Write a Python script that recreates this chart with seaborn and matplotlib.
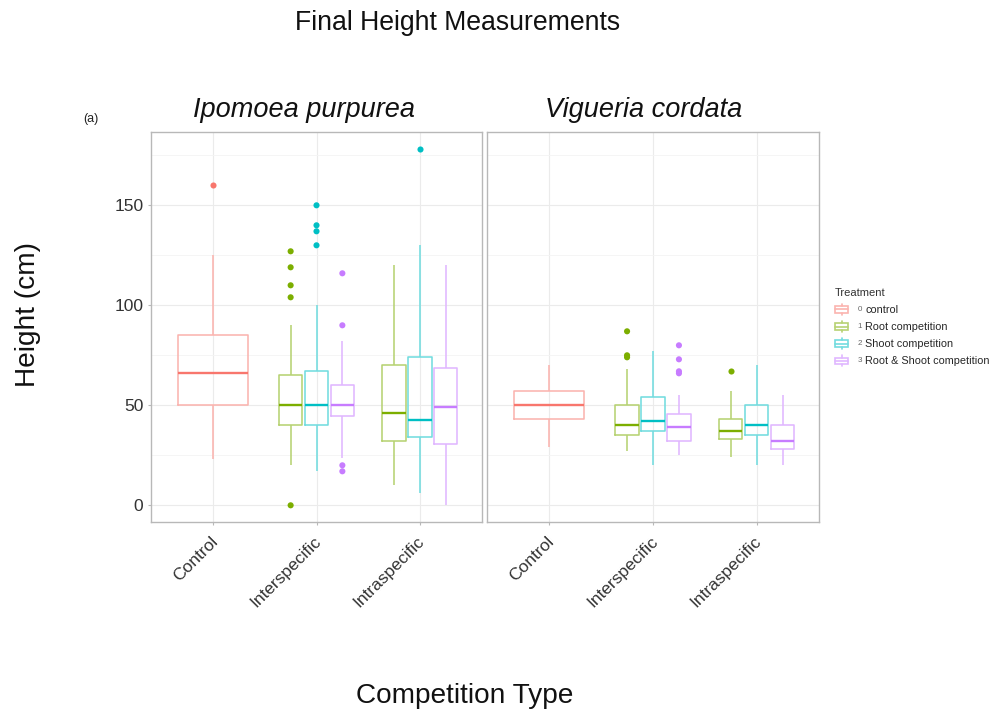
import matplotlib
matplotlib.use("Agg")
import numpy as np
import pandas as pd
import matplotlib.pyplot as plt
import seaborn as sns
from matplotlib.colors import to_rgb, to_hex
from matplotlib.patches import Rectangle
from matplotlib.lines import Line2D
from matplotlib.legend_handler import HandlerBase
from matplotlib.transforms import ScaledTranslation

# ---------------------------------------------------------------- data
species = ["Ipomoea purpurea", "Vigueria cordata"]
competition = ["Control", "Interspecific", "Intraspecific"]
treatments = ["control", "Root competition", "Shoot competition",
              "Root & Shoot competition"]
treatment_codes = ["0", "1", "2", "3"]
treatment_colors = ["#F8766D", "#7CAE00", "#00BFC4", "#C77CFF"]

# one entry per box: species / competition type / treatment
box_species = ["Ipomoea purpurea"] * 7 + ["Vigueria cordata"] * 7
box_competition = ["Control", "Interspecific", "Interspecific", "Interspecific",
                   "Intraspecific", "Intraspecific", "Intraspecific"] * 2
box_treatment = ["control", "Root competition", "Shoot competition",
                 "Root & Shoot competition", "Root competition",
                 "Shoot competition", "Root & Shoot competition"] * 2

# five-number summaries of final height (cm)
whisker_low = [23, 20, 17, 23.5, 10, 6, 0,
               29, 27, 20, 25, 24, 20, 20]
quartile_1 = [50, 40, 40, 44.5, 32, 34, 30.5,
              43, 35, 37, 32, 33, 35, 28]
median_height = [66, 50, 50, 50, 46, 42.5, 49,
                 50, 40, 42, 39, 37, 40, 32]
quartile_3 = [85, 65, 67, 60, 70, 74, 68.5,
              57, 50, 54, 45.5, 43, 50, 40]
whisker_high = [125, 90, 100, 82, 120, 130, 120,
                70, 68, 77, 55, 57, 70, 55]
# points beyond the whiskers
outlier_heights = [[160], [127, 119, 110, 104, 0], [150, 140, 137, 130],
                   [116, 90, 20, 17], [], [178], [],
                   [], [87, 75, 74], [], [80, 73, 67, 66], [67], [], []]

# ---------------------------------------------------------------- tables
summary = pd.DataFrame(
    [(sp, comp, trt, v)
     for sp, comp, trt, lo, a, m, b, hi in zip(
         box_species, box_competition, box_treatment,
         whisker_low, quartile_1, median_height, quartile_3, whisker_high)
     for v in (lo, a, m, b, hi)],
    columns=["species", "competition", "treatment", "height"])

outliers = pd.DataFrame(
    [(sp, comp, trt, v)
     for sp, comp, trt, vals in zip(box_species, box_competition,
                                    box_treatment, outlier_heights)
     for v in vals],
    columns=["species", "competition", "treatment", "height"])

palette = dict(zip(treatments, treatment_colors))


def lighten(color, amount=0.45):
    r, g, b = to_rgb(color)
    return to_hex((r + (1 - r) * amount, g + (1 - g) * amount,
                   b + (1 - b) * amount))


# ---------------------------------------------------------------- style
sns.set_theme(style="white")
plt.rcParams["font.family"] = ["Liberation Sans", "DejaVu Sans"]

W, H = 992, 712
fig = plt.figure(figsize=(W / 100, H / 100), dpi=100)
ax_l = fig.add_axes([151 / W, 1 - 522 / H, 331 / W, 390 / H])
ax_r = fig.add_axes([487 / W, 1 - 522 / H, 332 / W, 390 / H])

BOX_WIDTH = 0.75
STRIP_WIDTH = 0.8  # seaborn's dodge span for strip points

for ax, sp in zip([ax_l, ax_r], species):
    sub = summary[summary.species == sp]
    ctrl = sub[sub.treatment == treatments[0]]
    rest = sub[sub.treatment != treatments[0]]

    sns.boxplot(data=ctrl, x="competition", y="height", hue="treatment",
                order=competition, hue_order=treatments[:1], palette=palette,
                fill=False, width=BOX_WIDTH * 0.9, gap=0, dodge=False,
                whis=(0, 100), linewidth=1.15, legend=False, ax=ax)
    sns.boxplot(data=rest, x="competition", y="height", hue="treatment",
                order=competition, hue_order=treatments[1:], palette=palette,
                fill=False, width=BOX_WIDTH, gap=0.1, dodge=True,
                whis=(0, 100), linewidth=1.15, legend=False, ax=ax)

    # pale boxes and whiskers, solid medians, no caps
    for cont in ax.containers:
        for art in list(cont.boxes) + list(cont.whiskers):
            if hasattr(art, "get_edgecolor"):
                art.set_edgecolor(lighten(art.get_edgecolor()))
            else:
                art.set_color(lighten(art.get_color()))
        for cap in cont.caps:
            cap.set_visible(False)
        for med in cont.medians:
            med.set_linewidth(1.7)

    # outlying points
    osub = outliers[outliers.species == sp]
    groups = [(osub[osub.treatment == treatments[0]], treatments[:1], False),
              (osub[osub.treatment != treatments[0]], treatments[1:], True)]
    for odata, horder, dodge in groups:
        if odata.empty:
            continue
        n_before = len(ax.collections)
        sns.stripplot(data=odata, x="competition", y="height",
                      hue="treatment", order=competition, hue_order=horder,
                      palette=palette, dodge=dodge, jitter=False, size=4.4,
                      linewidth=0, legend=False, zorder=5, ax=ax)
        if dodge:
            for coll in ax.collections[n_before:]:
                off = coll.get_offsets()
                if len(off):
                    centre = np.round(off[:, 0])
                    off[:, 0] = centre + (off[:, 0] - centre) * BOX_WIDTH / STRIP_WIDTH
                    coll.set_offsets(off)

    ax.set_xlim(-0.6, 2.6)
    ax.set_ylim(-8.35, 186.65)
    ax.set_yticks([0, 50, 100, 150])
    ax.set_yticks([25, 75, 125, 175], minor=True)
    ax.grid(True, which="major", color="#EBEBEB", linewidth=0.8)
    ax.grid(True, which="minor", axis="y", color="#F4F4F4", linewidth=0.6)
    ax.set_axisbelow(True)
    ax.set_xlabel("")
    ax.set_ylabel("")
    for spine in ax.spines.values():
        spine.set_visible(True)
        spine.set_color("#B8B8B8")
        spine.set_linewidth(1.0)
    ax.tick_params(axis="both", which="major", length=2.5, width=0.8,
                   color="#B8B8B8", labelsize=12.5, labelcolor="#333333",
                   pad=3, bottom=True, left=True)
    ax.tick_params(axis="x", pad=6)
    ax.tick_params(which="minor", length=0)
    for lab in ax.get_xticklabels():
        lab.set_rotation(45)
        lab.set_ha("right")
        lab.set_va("top")
        lab.set_rotation_mode("anchor")
        lab.set_transform(lab.get_transform() +
                          ScaledTranslation(-0.03, 0, fig.dpi_scale_trans))

ax_r.tick_params(axis="y", left=False, labelleft=False)

# ---------------------------------------------------------------- text
fig.text(458 / W, 1 - 30 / H, "Final Height Measurements", ha="center",
         va="baseline", fontsize=19.2, color="#111111")
fig.text(304 / W, 1 - 117 / H, "Ipomoea purpurea", ha="center",
         va="baseline", fontsize=19.5, style="italic", color="#111111")
fig.text(644 / W, 1 - 117 / H, "Vigueria cordata", ha="center",
         va="baseline", fontsize=19.5, style="italic", color="#111111")
fig.text(91 / W, 1 - 119 / H, "(a)", ha="center", va="center",
         fontsize=9, color="#222222")
fig.text(28 / W, 1 - 315 / H, "Height (cm)", rotation=90, ha="center",
         va="center", fontsize=20.2, color="#111111")
fig.text(465 / W, 1 - 703 / H, "Competition Type", ha="center",
         va="baseline", fontsize=20.2, color="#111111")


# ---------------------------------------------------------------- legend
class BoxKey:
    def __init__(self, color):
        self.color = color


class BoxKeyHandler(HandlerBase):
    def create_artists(self, legend, handle, xd, yd, w, h, fontsize, trans):
        x0, y0 = -xd, -yd
        pale = lighten(handle.color)
        rect = Rectangle((x0, y0 + 0.2 * h), w, 0.6 * h, facecolor="white",
                         edgecolor=pale, linewidth=1.2, transform=trans)
        mid = Line2D([x0, x0 + w], [y0 + 0.5 * h] * 2, color=pale,
                     linewidth=1.2, transform=trans)
        lo = Line2D([x0 + w / 2] * 2, [y0, y0 + 0.2 * h], color=pale,
                    linewidth=1.2, transform=trans)
        hi = Line2D([x0 + w / 2] * 2, [y0 + 0.8 * h, y0 + h], color=pale,
                    linewidth=1.2, transform=trans)
        return [rect, mid, lo, hi]


handles = [BoxKey(c) for c in treatment_colors]
leg = fig.legend(handles, treatments, loc="upper left",
                 bbox_to_anchor=(835 / W, 1 - 288 / H), frameon=False,
                 title="Treatment", fontsize=7.8, title_fontsize=8,
                 handler_map={BoxKey: BoxKeyHandler()}, handlelength=1.2,
                 handleheight=1.15, handletextpad=1.6, labelspacing=0.56,
                 alignment="left", borderaxespad=0, borderpad=0)
leg.get_title().set_color("#333333")

fig.canvas.draw()
renderer = fig.canvas.get_renderer()
for txt, code in zip(leg.get_texts(), treatment_codes):
    bb = txt.get_window_extent(renderer)
    fig.text((bb.x0 - 3) / W, (bb.y0 + bb.y1) / 2 / H + 0.5 / H, code,
             ha="right", va="center", fontsize=5.8, color="#666666")

fig.savefig("out.png", dpi=100)
